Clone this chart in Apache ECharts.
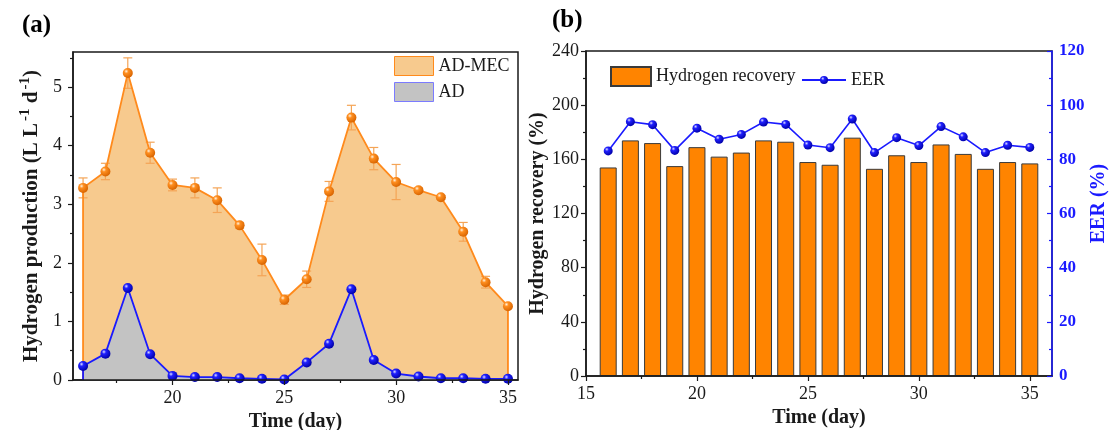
<!DOCTYPE html>
<html>
<head>
<meta charset="utf-8">
<script src="https://cdn.jsdelivr.net/npm/echarts@6/dist/echarts.min.js"></script>
<style>
  html, body { margin: 0; padding: 0; background: #fff; }
  #chart { width: 1109px; height: 430px; }
</style>
</head>
<body>
<div id="chart"></div>
<script>
  // ---- data ----
  var days = [16, 17, 18, 19, 20, 21, 22, 23, 24, 25, 26, 27, 28, 29, 30, 31, 32, 33, 34, 35];
  var adMec    = [3.28, 3.56, 5.24, 3.88, 3.33, 3.28, 3.07, 2.64, 2.05, 1.37, 1.72, 3.22, 4.48, 3.78, 3.38, 3.24, 3.12, 2.53, 1.67, 1.26];
  var adMecErr = [0.17, 0.14, 0.26, 0.18, 0.10, 0.17, 0.21, 0.05, 0.27, 0.08, 0.14, 0.17, 0.21, 0.19, 0.30, 0.04, 0.03, 0.16, 0.10, 0];
  var ad       = [0.24, 0.45, 1.57, 0.44, 0.07, 0.05, 0.05, 0.03, 0.02, 0.01, 0.30, 0.62, 1.55, 0.34, 0.11, 0.06, 0.03, 0.03, 0.02, 0.02];
  var recovery = [154, 174, 172, 155, 169, 162, 165, 174, 173, 158, 156, 176, 153, 163, 158, 171, 164, 153, 158, 157];
  var eer      = [83.1, 93.9, 92.8, 83.3, 91.5, 87.4, 89.2, 93.8, 92.9, 85.3, 84.3, 94.9, 82.5, 88.0, 85.1, 92.1, 88.3, 82.5, 85.2, 84.4];

  var xMajorA = [20, 25, 30, 35];
  var xMinorA = [17.5, 22.5, 27.5, 32.5];
  var yMajorA = [0, 1, 2, 3, 4, 5];
  var yMinorA = [0.5, 1.5, 2.5, 3.5, 4.5, 5.5];
  var xMajorB = [15, 20, 25, 30, 35];
  var xMinorB = [17.5, 22.5, 27.5, 32.5];

  var FONT = 'Liberation Serif';
  var INK = '#1a1a1a';
  var ORANGE = '#ff8a1c';
  var BLUE = '#1a1aff';

  function ball(light, mid, dark) {
    return new echarts.graphic.RadialGradient(0.35, 0.32, 0.7, [
      { offset: 0, color: light },
      { offset: 0.3, color: mid },
      { offset: 1, color: dark }
    ]);
  }

  function pairs(xs, ys) {
    return xs.map(function (d, i) { return [d, ys[i]]; });
  }

  // closed outline: drop to zero at both ends (vertical edges like the figure)
  function withEdges(xs, ys) {
    var out = pairs(xs, ys).map(function (p) { return { value: p }; });
    out.unshift({ value: [xs[0], 0], symbol: 'none' });
    out.push({ value: [xs[xs.length - 1], 0], symbol: 'none' });
    return out;
  }

  var chart = echarts.init(document.getElementById('chart'));

  var tickLabel = { fontFamily: FONT, fontSize: 18, color: INK };
  var nameStyle = { fontFamily: FONT, fontSize: 20, fontWeight: 'bold', color: INK };
  var axisLine = { show: true, lineStyle: { color: INK, width: 1.5 } };

  var option = {
    animation: false,
    backgroundColor: '#fff',
    graphic: [
      { type: 'text', left: 22, top: 13, style: { text: '(a)', font: 'bold 25px "Liberation Serif"', fill: '#000' } },
      { type: 'text', left: 552, top: 8, style: { text: '(b)', font: 'bold 25px "Liberation Serif"', fill: '#000' } }
    ],
    grid: [
      { left: 73, top: 52, right: 591, bottom: 50, outerBoundsMode: 'none', show: true, borderColor: INK, borderWidth: 1.5, backgroundColor: 'transparent' },
      { left: 586, top: 51, right: 57, bottom: 54, outerBoundsMode: 'none', show: true, borderColor: INK, borderWidth: 1.5, backgroundColor: 'transparent' }
    ],
    legend: [
      {
        orient: 'vertical', left: 394, top: 56, padding: 0, itemWidth: 39, itemHeight: 19, itemGap: 6,
        textStyle: { fontFamily: FONT, fontSize: 18, color: INK },
        data: [
          { name: 'AD-MEC', icon: 'rect', itemStyle: { color: '#f7ca8e', borderColor: ORANGE, borderWidth: 1 } },
          { name: 'AD', icon: 'rect', itemStyle: { color: '#c3c3c3', borderColor: '#7b7bff', borderWidth: 1 } }
        ]
      },
      {
        orient: 'horizontal', left: 610, top: 66, padding: 0, itemWidth: 40, itemHeight: 19,
        textStyle: { fontFamily: FONT, fontSize: 18, color: INK },
        data: [{ name: 'Hydrogen recovery', icon: 'rect' }]
      },
      {
        orient: 'horizontal', left: 801, top: 71, padding: 0, itemWidth: 44, itemHeight: 10,
        textStyle: { fontFamily: FONT, fontSize: 18, color: INK },
        data: ['EER']
      }
    ],
    xAxis: [
      {
        type: 'value', gridIndex: 0, min: 15.55, max: 35.45, z: 10,
        name: 'Time (day)', nameLocation: 'middle', nameGap: 24, nameTextStyle: nameStyle,
        axisLine: axisLine, splitLine: { show: false },
        axisTick: { show: true, length: 5, customValues: xMajorA, lineStyle: { color: INK, width: 1.2 } },
        axisLabel: Object.assign({ margin: 9, customValues: xMajorA }, tickLabel)
      },
      {
        type: 'value', gridIndex: 0, min: 15.55, max: 35.45, position: 'bottom',
        axisLine: { show: false }, splitLine: { show: false }, axisLabel: { show: false },
        axisTick: { show: true, length: 3, customValues: xMinorA, lineStyle: { color: INK, width: 1.2 } }
      },
      {
        type: 'value', gridIndex: 1, min: 15, max: 36, z: 10,
        name: 'Time (day)', nameLocation: 'middle', nameGap: 30, nameTextStyle: nameStyle,
        axisLine: axisLine, splitLine: { show: false },
        axisTick: { show: true, length: 5, customValues: xMajorB, lineStyle: { color: INK, width: 1.2 } },
        axisLabel: Object.assign({ margin: 9, customValues: xMajorB }, tickLabel)
      },
      {
        type: 'value', gridIndex: 1, min: 15, max: 36, position: 'bottom',
        axisLine: { show: false }, splitLine: { show: false }, axisLabel: { show: false },
        axisTick: { show: true, length: 3, customValues: xMinorB, lineStyle: { color: INK, width: 1.2 } }
      }
    ],
    yAxis: [
      {
        type: 'value', gridIndex: 0, min: 0, max: 5.6, z: 10,
        name: 'Hydrogen production (L L{s|-1} d{s|-1})', nameLocation: 'middle', nameGap: 28,
        nameTextStyle: Object.assign({}, nameStyle, {
          fontSize: 21,
          rich: { s: { fontFamily: FONT, fontSize: 15, fontWeight: 'bold', color: INK, padding: [0, 0, 12, 2] } }
        }),
        axisLine: axisLine, splitLine: { show: false },
        axisTick: { show: true, length: 5, customValues: yMajorA, lineStyle: { color: INK, width: 1.2 } },
        axisLabel: Object.assign({ margin: 11, customValues: yMajorA }, tickLabel)
      },
      {
        type: 'value', gridIndex: 0, min: 0, max: 5.6, position: 'left',
        axisLine: { show: false }, splitLine: { show: false }, axisLabel: { show: false },
        axisTick: { show: true, length: 3, customValues: yMinorA, lineStyle: { color: INK, width: 1.2 } }
      },
      {
        type: 'value', gridIndex: 1, min: 0, max: 240, interval: 40, z: 10,
        name: 'Hydrogen recovery (%)', nameLocation: 'middle', nameGap: 38, nameTextStyle: nameStyle,
        axisLine: axisLine, splitLine: { show: false },
        axisTick: { show: true, length: 5, lineStyle: { color: INK, width: 1.2 } },
        minorTick: { show: true, splitNumber: 2, length: 3, lineStyle: { color: INK, width: 1.2 } },
        axisLabel: Object.assign({ margin: 7 }, tickLabel)
      },
      {
        type: 'value', gridIndex: 1, min: 0, max: 120, interval: 20, position: 'right', z: 10,
        name: 'EER (%)', nameLocation: 'middle', nameGap: 33,
        nameTextStyle: { fontFamily: FONT, fontSize: 20, fontWeight: 'bold', color: BLUE, padding: [0, 0, 0, 20] },
        axisLine: { show: true, lineStyle: { color: BLUE, width: 1.5 } }, splitLine: { show: false },
        axisTick: { show: true, inside: true, length: 5, lineStyle: { color: BLUE, width: 1.2 } },
        minorTick: { show: true, splitNumber: 2, length: 3, lineStyle: { color: BLUE, width: 1.2 } },
        axisLabel: { margin: 7, fontFamily: FONT, fontSize: 17, fontWeight: 'bold', color: BLUE }
      }
    ],
    series: [
      {
        name: 'AD-MEC', type: 'line', xAxisIndex: 0, yAxisIndex: 0, z: 1,
        data: withEdges(days, adMec), showSymbol: false, symbol: 'none',
        itemStyle: { color: '#f7ca8e' }, lineStyle: { width: 0, opacity: 0 },
        areaStyle: { color: '#f7ca8e', opacity: 1 }
      },
      {
        name: 'AD', type: 'line', xAxisIndex: 0, yAxisIndex: 0, z: 2,
        data: withEdges(days, ad), showSymbol: false, symbol: 'none',
        itemStyle: { color: '#c3c3c3' }, lineStyle: { width: 0, opacity: 0 },
        areaStyle: { color: '#c3c3c3', opacity: 1 }
      },
      {
        name: 'AD-MEC error', type: 'custom', xAxisIndex: 0, yAxisIndex: 0, z: 3,
        data: days.map(function (d, i) { return [d, adMec[i], adMecErr[i]]; }),
        renderItem: function (params, api) {
          var x = api.value(0), y = api.value(1), e = api.value(2);
          if (!e) return null;
          var top = api.coord([x, y + e]), bot = api.coord([x, y - e]);
          var w = 4.5, st = { stroke: '#f4a456', lineWidth: 1.2 };
          return {
            type: 'group', children: [
              { type: 'line', shape: { x1: top[0], y1: top[1], x2: bot[0], y2: bot[1] }, style: st },
              { type: 'line', shape: { x1: top[0] - w, y1: top[1], x2: top[0] + w, y2: top[1] }, style: st },
              { type: 'line', shape: { x1: bot[0] - w, y1: bot[1], x2: bot[0] + w, y2: bot[1] }, style: st }
            ]
          };
        }
      },
      {
        name: 'AD-MEC line', type: 'line', xAxisIndex: 0, yAxisIndex: 0, z: 4,
        data: withEdges(days, adMec), symbol: 'circle', symbolSize: 10, showSymbol: true,
        lineStyle: { color: ORANGE, width: 1.8 },
        itemStyle: { color: ball('#fff3e0', '#ff8f20', '#d86400') }
      },
      {
        name: 'AD line', type: 'line', xAxisIndex: 0, yAxisIndex: 0, z: 5,
        data: withEdges(days, ad), symbol: 'circle', symbolSize: 10, showSymbol: true,
        lineStyle: { color: BLUE, width: 1.8 },
        itemStyle: { color: ball('#e0e0ff', '#2020ff', '#0000a8') }
      },
      {
        name: 'Hydrogen recovery', type: 'bar', xAxisIndex: 2, yAxisIndex: 2, z: 2,
        data: pairs(days, recovery), barWidth: 17,
        itemStyle: { color: '#ff8400', borderColor: '#3a3a3a', borderWidth: 1 }
      },
      {
        name: 'EER', type: 'line', xAxisIndex: 2, yAxisIndex: 3, z: 5,
        data: pairs(days, eer), symbol: 'circle', symbolSize: 9,
        lineStyle: { color: BLUE, width: 1.6 },
        itemStyle: { color: ball('#e0e0ff', '#2020ff', '#0000a8') }
      }
    ]
  };

  chart.setOption(option);
  window.addEventListener('resize', function () { chart.resize(); });
</script>
</body>
</html>
